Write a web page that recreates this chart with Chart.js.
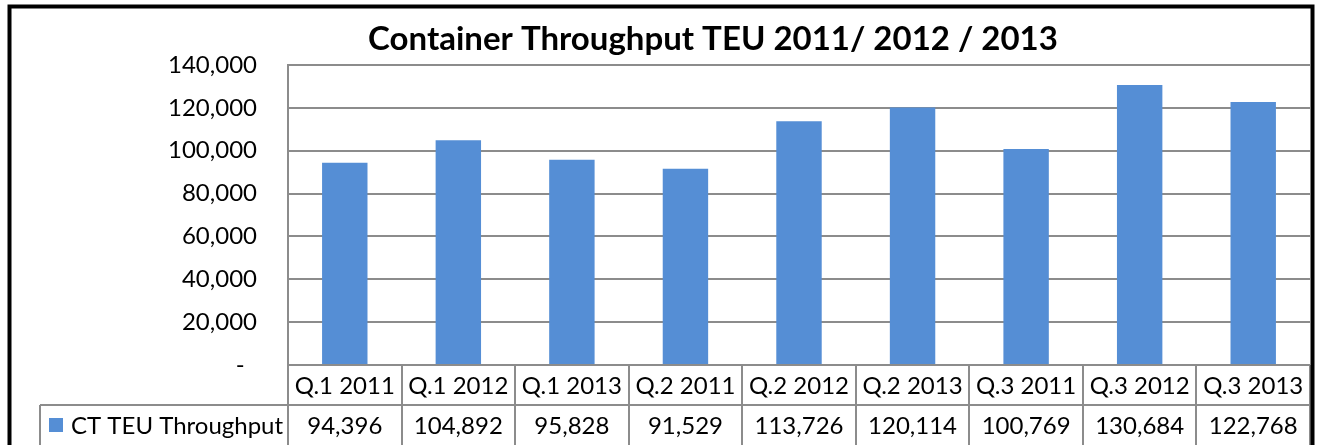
<!DOCTYPE html>
<html>
<head>
<meta charset="utf-8">
<script src="https://cdn.jsdelivr.net/npm/chart.js@4.4.0/dist/chart.umd.min.js"></script>
<style>
  html, body { margin: 0; padding: 0; background: #fff; }
  #wrap { width: 1320px; height: 445px; position: relative; }
</style>
</head>
<body>
<div id="wrap"><canvas id="TeuChart"></canvas></div>
<script>
var categories = ["Q.1 2011", "Q.1 2012", "Q.1 2013", "Q.2 2011", "Q.2 2012", "Q.2 2013", "Q.3 2011", "Q.3 2012", "Q.3 2013"];
var teuValues = [94396, 104892, 95828, 91529, 113726, 120114, 100769, 130684, 122768];
var seriesName = "CT TEU Throughput";
var chartTitle = "Container Throughput TEU 2011/ 2012 / 2013";

var barColor = "#558ED5";
var lineColor = "#8C8C8C";
var fontName = "Lato";

function fmt(v) {
  return v.toLocaleString("en-US");
}

// white background, title, data table under the plot and the black frame
var tablePlugin = {
  id: "dataTable",
  beforeDraw: function (chart) {
    var ctx = chart.ctx;
    ctx.save();
    ctx.fillStyle = "#fff";
    ctx.fillRect(0, 0, chart.width, chart.height);
    ctx.restore();
  },
  afterDraw: function (chart) {
    var ctx = chart.ctx;
    var area = chart.chartArea;
    var x = chart.scales.x;
    var top = area.bottom;
    var rowH = 40;
    var row2 = top + rowH;
    var bottom = chart.height + 5;
    var legendLeft = 40;
    var half = (x.getPixelForValue(1) - x.getPixelForValue(0)) / 2;

    ctx.save();
    // title (Excel puts it a bit right of centre)
    ctx.fillStyle = "#000";
    ctx.font = "bold 33px " + fontName;
    ctx.textAlign = "center";
    ctx.textBaseline = "alphabetic";
    ctx.fillText(chartTitle, 713, 50);

    ctx.strokeStyle = lineColor;
    ctx.lineWidth = 2;
    ctx.beginPath();
    ctx.moveTo(area.left, top);
    ctx.lineTo(area.right, top);
    ctx.moveTo(legendLeft, row2);
    ctx.lineTo(area.right, row2);
    ctx.moveTo(legendLeft, row2);
    ctx.lineTo(legendLeft, bottom);
    for (var i = 0; i <= categories.length; i++) {
      var bx = Math.round(x.getPixelForValue(0) - half + i * half * 2);
      ctx.moveTo(bx, top);
      ctx.lineTo(bx, bottom);
    }
    ctx.stroke();

    ctx.fillStyle = "#000";
    ctx.font = "24px " + fontName;
    ctx.textAlign = "center";
    ctx.textBaseline = "middle";
    for (var j = 0; j < categories.length; j++) {
      var cx = x.getPixelForValue(j);
      ctx.fillText(categories[j], cx, top + rowH / 2 + 1);
      ctx.fillText(fmt(teuValues[j]), cx, row2 + rowH / 2 + 1);
    }

    // legend key
    ctx.fillStyle = barColor;
    ctx.fillRect(49, row2 + 13, 14, 14);
    ctx.fillStyle = "#000";
    ctx.textAlign = "left";
    ctx.fillText(seriesName, 71, row2 + rowH / 2 + 1);

    // black frame
    ctx.strokeStyle = "#000";
    ctx.lineWidth = 4;
    ctx.strokeRect(9.5, 6.5, 1303, 500);
    ctx.restore();
  }
};

new Chart(document.getElementById("TeuChart"), {
  type: "bar",
  data: {
    labels: categories,
    datasets: [
      {
        label: seriesName,
        data: teuValues,
        backgroundColor: barColor,
        borderWidth: 0,
        barPercentage: 0.4,
        categoryPercentage: 1,
      },
    ],
  },
  options: {
    responsive: true,
    maintainAspectRatio: false,
    animation: false,
    layout: {
      padding: { top: 65, right: 10, bottom: 80, left: 0 },
    },
    plugins: {
      legend: { display: false },
      tooltip: { enabled: false },
      title: { display: false },
    },
    scales: {
      x: {
        display: false,
      },
      y: {
        min: 0,
        max: 140000,
        afterFit: function (scale) {
          scale.width = 288;
        },
        ticks: {
          stepSize: 20000,
          color: "#000",
          padding: 31,
          font: { family: fontName, size: 24 },
          callback: function (v) {
            return v === 0 ? "-  " : fmt(v);
          },
        },
        grid: {
          color: lineColor,
          lineWidth: 2,
          drawTicks: false,
        },
        border: {
          color: lineColor,
          width: 2,
        },
      },
    },
  },
  plugins: [tablePlugin],
});
</script>
</body>
</html>
